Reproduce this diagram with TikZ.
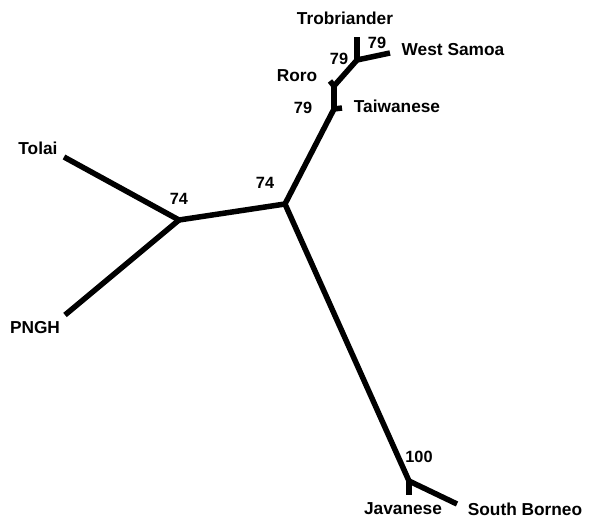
\documentclass[tikz,border=0pt]{standalone}
\usepackage{fontspec}
\setmainfont{Liberation Sans}
\begin{document}
\begin{tikzpicture}[x=1pt,y=-1pt,
  branch/.style={line width=5.5pt,line cap=butt,line join=miter},
  taxon/.style={font=\fontsize{17.3}{19}\selectfont\bfseries,inner sep=0pt},
  boot/.style={font=\fontsize{16.3}{18}\selectfont\bfseries,inner sep=0pt}]
\useasboundingbox (0,0) rectangle (589,518);
% internal nodes
\coordinate (A) at (179,220);
\coordinate (B) at (285,204);
\coordinate (C) at (334,109);
\coordinate (F) at (334,86);
\coordinate (D) at (357,60);
\coordinate (E) at (409,481);
% leaf ends
\coordinate (tolai) at (64,157);
\coordinate (pngh) at (65,315);
\coordinate (taiw) at (342,108);
\coordinate (roro) at (330,81);
\coordinate (trob) at (357,37);
\coordinate (wsam) at (390,53);
\coordinate (java) at (409,495);
\coordinate (sborn) at (457,504);
% branches
\draw[branch] (tolai) -- (A);
\draw[branch] (pngh) -- (A);
\draw[branch] (A) -- (B);
\draw[branch] (B) -- (C);
\draw[branch] (C) -- (taiw);
\draw[branch] (C) -- (F);
\draw[branch] (F) -- (roro);
\draw[branch] (F) -- (D);
\draw[branch] (D) -- (trob);
\draw[branch] (D) -- (wsam);
\draw[branch] (B) -- (E);
\draw[branch] (E) -- (java);
\draw[branch] (E) -- (sborn);
% taxon labels
\node[taxon] (lTolai) at (38,148) {Tolai};
\node[taxon] (lPNGH) at (35,328) {PNGH};
\node[taxon] (lTrob) at (345,18) {Trobriander};
\node[taxon] (lWS) at (453,50) {West Samoa};
\node[taxon] (lRoro) at (297,76) {Roro};
\node[taxon] (lTaiw) at (397,106) {Taiwanese};
\node[taxon] (lJava) at (403,509) {Javanese};
\node[taxon] (lSB) at (525,509) {South Borneo};
% bootstrap values
\node[boot] (b1) at (179,199) {74};
\node[boot] (b2) at (265,183) {74};
\node[boot] (b3) at (377,43) {79};
\node[boot] (b4) at (339,59) {79};
\node[boot] (b5) at (303,108) {79};
\node[boot] (b6) at (419,457) {100};
\end{tikzpicture}
\end{document}
